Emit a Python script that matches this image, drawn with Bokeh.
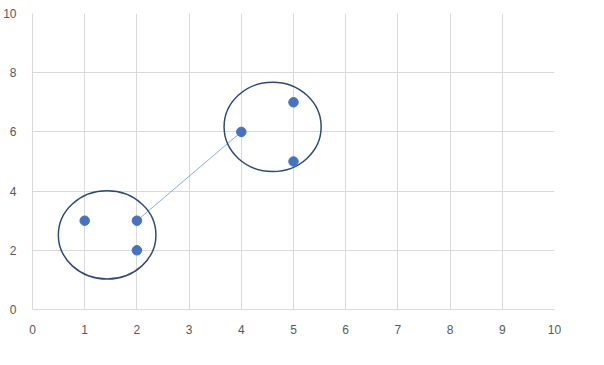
from bokeh.plotting import figure
from bokeh.embed import file_html
from bokeh.resources import INLINE
from bokeh.models import Range1d, FixedTicker

# data
point_x = [1, 2, 2, 4, 5, 5]
point_y = [3, 3, 2, 6, 7, 5]
link_x = [2, 4]
link_y = [3, 6]
ellipse_cx = [1.43, 4.60]
ellipse_cy = [2.52, 6.17]
ellipse_w = [1.87, 1.86]
ellipse_h = [2.98, 3.02]
ticks = [0, 1, 2, 3, 4, 5, 6, 7, 8, 9, 10]
yticks = [0, 2, 4, 6, 8, 10]

p = figure(width=580, height=348, output_backend="svg", toolbar_location=None,
           x_range=Range1d(0, 10), y_range=Range1d(0, 10),
           min_border_left=31, min_border_right=26, min_border_top=13, min_border_bottom=39)
p.outline_line_color = None
p.background_fill_color = "white"
p.border_fill_color = "white"

for ax in (p.xaxis[0], p.yaxis[0]):
    ax.axis_line_color = "#D9D9D9"
    ax.major_tick_line_color = None
    ax.minor_tick_line_color = None
    ax.major_label_text_color = "#595959"
    ax.major_label_text_font = "Liberation Sans"
    ax.major_label_text_font_size = "12px"
p.xaxis[0].ticker = FixedTicker(ticks=ticks)
p.yaxis[0].ticker = FixedTicker(ticks=yticks)
p.xaxis[0].major_label_standoff = 9
p.yaxis[0].major_label_standoff = 10

p.xgrid[0].ticker = FixedTicker(ticks=ticks)
p.ygrid[0].ticker = FixedTicker(ticks=yticks)
for g in (p.xgrid[0], p.ygrid[0]):
    g.grid_line_color = "#D9D9D9"
    g.grid_line_width = 1

p.line(link_x, link_y, line_color="#8FAADC", line_width=1)
p.ellipse(x=ellipse_cx, y=ellipse_cy, width=ellipse_w, height=ellipse_h,
          fill_color=None, line_color="#2F4A78", line_width=1.5)
p.scatter(point_x, point_y, size=9.5, fill_color="#4472C4", line_color="#4472C4")

open("out.html", "w").write(file_html(p, INLINE))
